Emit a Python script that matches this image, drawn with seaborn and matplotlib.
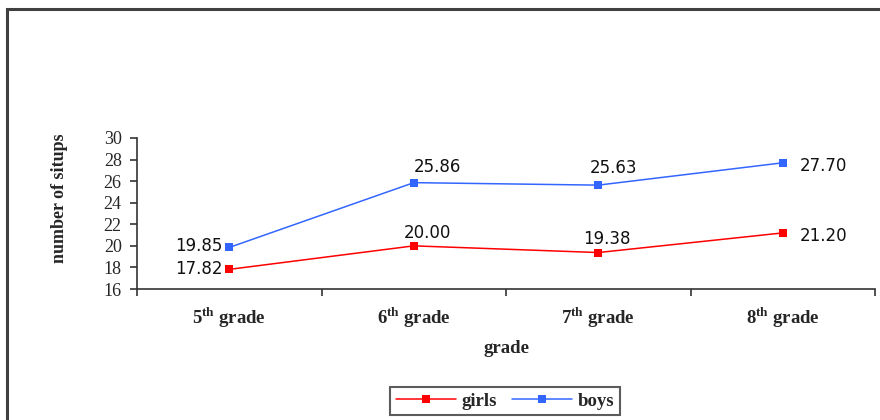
import matplotlib
matplotlib.use("Agg")
import matplotlib.pyplot as plt
import pandas as pd
import seaborn as sns
from matplotlib.patches import Rectangle

# Average number of situps per grade
grades = ["5th grade", "6th grade", "7th grade", "8th grade"]
girls = [17.82, 20.00, 19.38, 21.20]
boys = [19.85, 25.86, 25.63, 27.70]
tick_labels = [r"5$^{\mathbf{th}}$ grade", r"6$^{\mathbf{th}}$ grade",
               r"7$^{\mathbf{th}}$ grade", r"8$^{\mathbf{th}}$ grade"]

df = pd.concat([
    pd.DataFrame({"grade": grades, "situps": girls, "group": "girls"}),
    pd.DataFrame({"grade": grades, "situps": boys, "group": "boys"}),
], ignore_index=True)

sns.set_style("white")
plt.rcParams["font.family"] = ["Liberation Serif", "DejaVu Serif"]
plt.rcParams["mathtext.fontset"] = "custom"
plt.rcParams["mathtext.rm"] = "Liberation Serif"
plt.rcParams["mathtext.bf"] = "Liberation Serif:bold"

RED = "#FF0000"
BLUE = "#3366FF"

fig = plt.figure(figsize=(8.8, 4.2), dpi=100)
ax = fig.add_axes([137 / 880, 1 - 289 / 420, (875 - 137) / 880, (289 - 138) / 420])

sns.lineplot(data=df, x="grade", y="situps", hue="group",
             palette={"girls": RED, "boys": BLUE}, marker="s",
             markersize=6, markeredgewidth=0, linewidth=1.1, ax=ax,
             legend=False, sort=False)

ax.set_xlim(-0.5, 3.5)
ax.set_ylim(16, 30)
ax.set_yticks(range(16, 31, 2))
ax.set_yticklabels([str(v) for v in range(16, 31, 2)], fontsize=13)

# category labels centered, tick marks on category boundaries
ax.set_xticks(range(len(grades)))
ax.set_xticklabels(tick_labels, fontsize=13.5, fontweight="bold")
ax.set_xticks([i - 0.5 for i in range(len(grades) + 1)], minor=True)
ax.tick_params(axis="x", which="major", length=0, pad=12)
ax.tick_params(axis="x", which="minor", length=5, width=1.2, color="#333333",
               direction="out", bottom=True)
ax.tick_params(axis="y", length=5, width=1.2, color="#333333", direction="out",
               left=True, pad=6)

for side in ["top", "right"]:
    ax.spines[side].set_visible(False)
for side in ["left", "bottom"]:
    ax.spines[side].set_color("#333333")
    ax.spines[side].set_linewidth(1.2)

ax.set_xlabel("grade", fontsize=13.5, fontweight="bold", labelpad=7)
ax.set_ylabel("number of situps", fontsize=13, fontweight="bold")
ax.yaxis.set_label_coords(-0.094, 0.60)

# value labels next to each point
girls_offsets = [(-5, 0, "right"), (10, 9, "center"), (6, 10, "center"), (12, -2, "left")]
boys_offsets = [(-5, 1, "right"), (17, 11, "center"), (11, 12, "center"), (12, -2, "left")]
for values, offsets in [(girls, girls_offsets), (boys, boys_offsets)]:
    for i, (v, (dx, dy, ha)) in enumerate(zip(values, offsets)):
        ax.annotate(f"{v:.2f}", (i, v), xytext=(dx, dy), textcoords="offset points",
                    ha=ha, va="center", fontsize=12, family="DejaVu Sans",
                    color="#111111")

# legend below the axis
handles = [
    plt.Line2D([], [], color=RED, marker="s", markersize=6, markeredgewidth=0, linewidth=1.1),
    plt.Line2D([], [], color=BLUE, marker="s", markersize=6, markeredgewidth=0, linewidth=1.1),
]
leg = fig.legend(handles, ["girls", "boys"], loc="center",
                 bbox_to_anchor=(505 / 880, 1 - 401 / 420), ncol=2,
                 frameon=True, fancybox=False, handlelength=3.2, handletextpad=0.3,
                 columnspacing=0.8, borderpad=0.3,
                 prop={"family": "Liberation Serif", "weight": "bold", "size": 13.5})
leg.get_frame().set_edgecolor("#333333")
leg.get_frame().set_linewidth(1.5)

# outer chart border
fig.patches.append(Rectangle((7 / 880, -0.1), 1.2, 1 - 9 / 420 + 0.1,
                             transform=fig.transFigure, fill=False,
                             edgecolor="#404040", linewidth=2.2))

fig.savefig("out.png", dpi=100)
